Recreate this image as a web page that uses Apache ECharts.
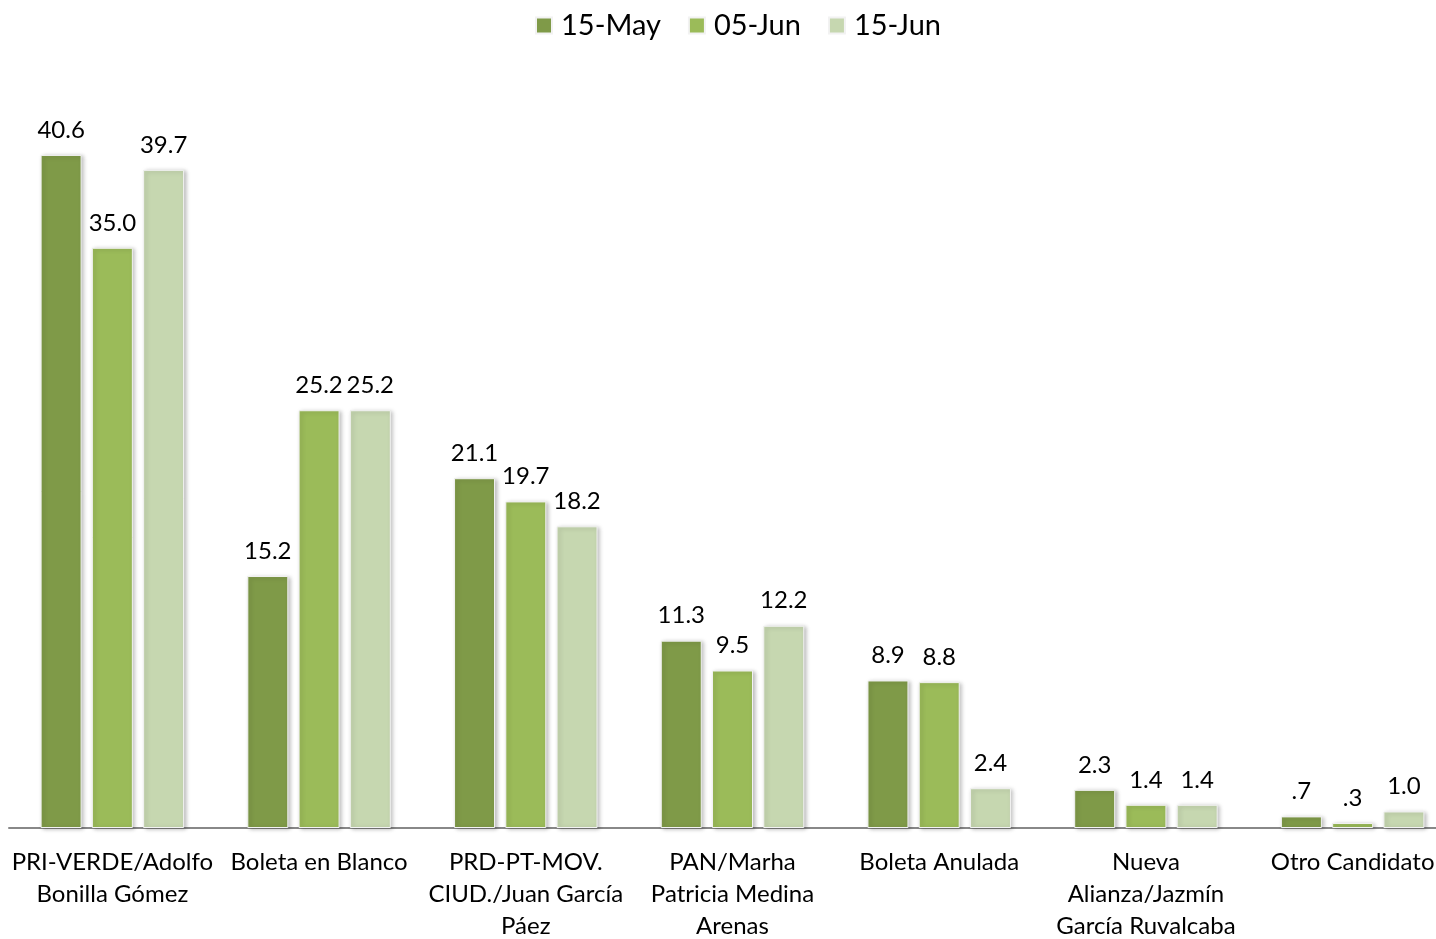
<!DOCTYPE html>
<html>
<head>
<meta charset="utf-8">
<script src="https://cdn.jsdelivr.net/npm/echarts@6/dist/echarts.min.js"></script>
<style>
  html, body { margin: 0; padding: 0; background: #fff; }
  #chart { width: 1436px; height: 939px; }
</style>
</head>
<body>
<div id="chart"></div>
<script>
const categories = [
  'PRI-VERDE/Adolfo\nBonilla Gómez',
  'Boleta en Blanco',
  'PRD-PT-MOV.\nCIUD./Juan García\nPáez',
  'PAN/Marha\nPatricia Medina\nArenas',
  'Boleta Anulada',
  'Nueva\nAlianza/Jazmín\nGarcía Ruvalcaba',
  'Otro Candidato'
];
const may15 = [40.6, 15.2, 21.1, 11.3, 8.9, 2.3, 0.7];
const jun05 = [35.0, 25.2, 19.7, 9.5, 8.8, 1.4, 0.3];
const jun15 = [39.7, 25.2, 18.2, 12.2, 2.4, 1.4, 1.0];

const seriesNames = ['15-May', '05-Jun', '15-Jun'];
const colors = ['#7F9A48', '#9BBB59', '#C6D7B0'];
const FONT = "Lato, 'Open Sans', sans-serif";

const chart = echarts.init(document.getElementById('chart'));

function fmt(p) {
  let s = p.value.toFixed(1);
  if (s.startsWith('0.')) s = s.slice(1);
  return s;
}

function bar(name, data, i) {
  return {
    name: name,
    type: 'bar',
    data: data,
    barWidth: 41,
    barGap: '25%',
    itemStyle: {
      color: colors[i],
      borderColor: '#f2f2f2',
      borderWidth: 1,
      shadowColor: 'rgba(0,0,0,0.25)',
      shadowBlur: 4,
      shadowOffsetX: 2,
      shadowOffsetY: 1
    },
    label: {
      show: true,
      position: 'top',
      distance: 13,
      formatter: fmt,
      fontSize: 24,
      fontFamily: FONT,
      color: '#000'
    }
  };
}

chart.setOption({
  animation: false,
  legend: {
    top: 6,
    left: 530,
    itemWidth: 16,
    itemHeight: 16,
    itemGap: 27,
    icon: 'rect',
    textStyle: { fontSize: 29, fontFamily: FONT, color: '#000', padding: [0, 0, 0, 4] },
    data: seriesNames
  },
  grid: {
    left: 9, top: 82, width: 1447, height: 746,
    containLabel: false,
    outerBoundsMode: 'none'
  },
  xAxis: {
    type: 'category',
    data: categories,
    axisLine: { lineStyle: { color: '#888', width: 2 } },
    axisTick: { show: false },
    axisLabel: {
      fontSize: 24,
      fontFamily: FONT,
      color: '#000',
      lineHeight: 32,
      margin: 18,
      interval: 0
    }
  },
  yAxis: {
    type: 'value',
    min: 0,
    max: 45,
    show: false,
    splitLine: { show: false }
  },
  series: [
    bar(seriesNames[0], may15, 0),
    bar(seriesNames[1], jun05, 1),
    bar(seriesNames[2], jun15, 2)
  ]
});
</script>
</body>
</html>
